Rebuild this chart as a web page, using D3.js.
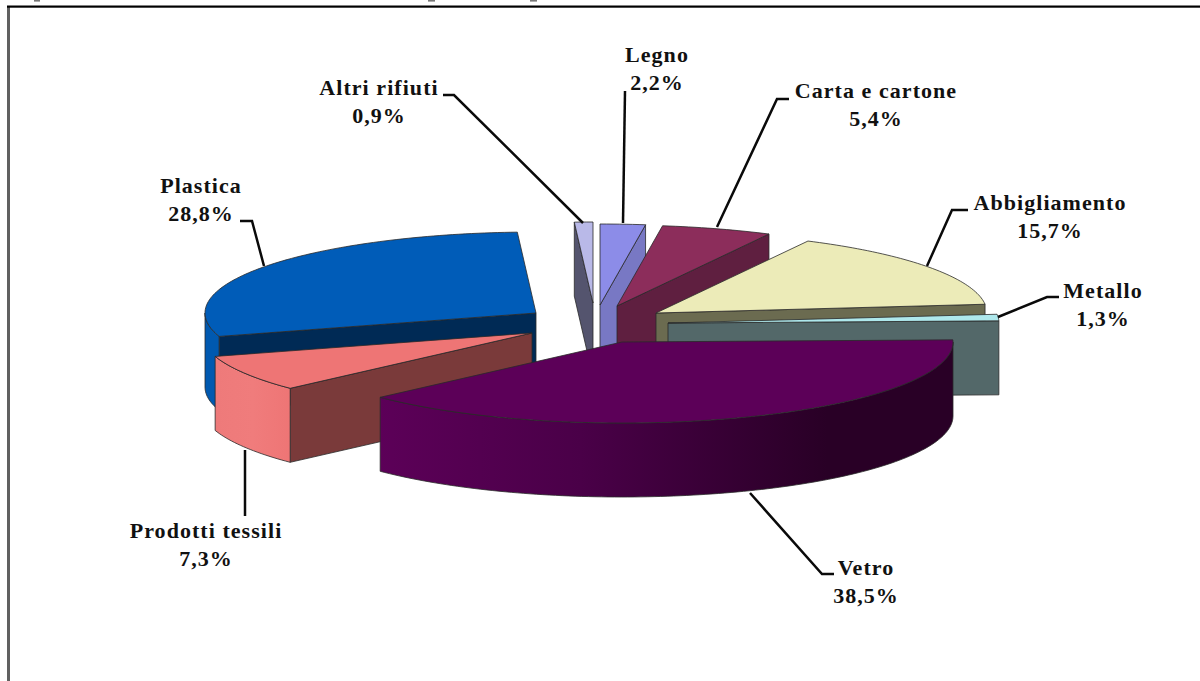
<!DOCTYPE html>
<html><head><meta charset="utf-8">
<script src="https://cdn.jsdelivr.net/npm/d3@7"></script>
<style>html,body{margin:0;padding:0;background:#fff;overflow:hidden}svg{display:block}
text{font-family:"Liberation Serif",serif;font-weight:bold;fill:#111;font-size:22px;text-anchor:middle;letter-spacing:1.05px}</style>
</head><body><svg id="c" width="1200" height="681"></svg>
<script>
// Data
const categories = ["Legno","Carta e cartone","Abbigliamento","Metallo","Vetro","Prodotti tessili","Plastica","Altri rifiuti"];
const shares = [2.2,5.4,15.7,1.3,38.5,7.3,28.8,0.9];
const shareLabels = ["2,2%","5,4%","15,7%","1,3%","38,5%","7,3%","28,8%","0,9%"];

// Styles (slice order)
const topColors  = ["#8c8ce8","#8c2d5b","#ecebb8","#aee8ec","#5c0058","#ee7575","#005cb8","#b9b9e8"];
const sideColors = ["#7878c4","#5f1f40","#6b6b50","#536869","#2a0027","#7a3a3a","#002a55","#54546e"];
const rimColors  = ["#7878c4","#5f1f40","#6b6b50","#536869","url(#gVetro)","url(#gTessili)","#0059b0","#54546e"];

// Layout (slice order)
const apexX = [600,617,656,668,622,532,536,593];
const apexY = [305,306,313,323,342,333,313,303];
const drawOrder = [0,7,1,6,2,3,5,4];
const labelX  = [657,876,1050,1103,866,206,201,379];
const labelY  = [62,98,210,298,575,538,193,95];
const leaders = [
  [[625,91],[623,223]],
  [[789,99],[777,99],[717,227]],
  [[968,210],[952,210],[927,266]],
  [[1059,297],[1047,297],[998,317]],
  [[750,493],[822,574],[834,574]],
  [[245,450],[245,516]],
  [[240,221],[252,221],[264,266]],
  [[443,95],[454,95],[583,223]]
];
const rx = 331, ry = 81, depth = 74, lineHeight = 27.5;

const svg = d3.select("#c");
const defs = svg.append("defs");
const grad = (id, stops) => {
  const g = defs.append("linearGradient").attr("id", id);
  stops.forEach(([o,c]) => g.append("stop").attr("offset", o).attr("stop-color", c));
};
grad("gVetro", [[0,"#5c0058"],[.35,"#4a0048"],[.78,"#290026"],[1,"#290026"]]);
grad("gTessili", [[0,"#ee7a7a"],[.5,"#f07c7c"],[1,"#ee7575"]]);

// Frame
svg.append("rect").attr("x",7).attr("y",6).attr("width",3).attr("height",675).attr("fill","#606060");
svg.append("rect").attr("x",7).attr("y",5.5).attr("width",1193).attr("height",2.2).attr("fill","#000");
[[34,6],[428,7],[530,7]].forEach(([x,w]) => svg.append("rect").attr("x",x).attr("y",0).attr("width",w).attr("height",1.6).attr("fill","#777"));

// Pie
const pie = d3.pie().value(d => d).sort(null).startAngle(0).endAngle(2*Math.PI);
const arcs = pie(shares);
const line = d3.line();
const rim = (i,a,dz=0) => [apexX[i] + rx*Math.sin(a), apexY[i] - ry*Math.cos(a) + dz];
const sweep = (i,a0,a1,dz=0) => {
  const n = Math.max(2, Math.ceil((a1-a0)/0.02));
  return d3.range(n+1).map(k => rim(i, a0 + (a1-a0)*k/n, dz));
};
const stroke = (sel) => sel.attr("stroke","#2a2a2a").attr("stroke-width",.8).attr("stroke-linejoin","round");
const poly = (pts, fill) => svg.append("path").attr("d", line(pts)+"Z").attr("fill",fill).call(stroke);

drawOrder.forEach(i => {
  const {startAngle:a0, endAngle:a1} = arcs[i];
  const P = [apexX[i], apexY[i]], Pd = [apexX[i], apexY[i]+depth];
  const PI = Math.PI;
  // radial side walls facing the viewer
  if (a1 < PI) poly([P, rim(i,a1), rim(i,a1,depth), Pd], sideColors[i]);
  if (a0 > PI) poly([P, rim(i,a0), rim(i,a0,depth), Pd], sideColors[i]);
  // outer curved wall
  const s = Math.max(a0, PI/2), e = Math.min(a1, 3*PI/2);
  if (e > s) poly([...sweep(i,s,e), ...sweep(i,s,e,depth).reverse()], rimColors[i]);
  // top face
  poly([P, ...sweep(i,a0,a1)], topColors[i]);
});

// Leaders
leaders.forEach(pts => svg.append("path").attr("d", line(pts)).attr("fill","none").attr("stroke","#0a0a0a").attr("stroke-width",2.5));

// Labels
categories.forEach((c,i) => {
  svg.append("text").attr("x",labelX[i]).attr("y",labelY[i]).text(c);
  svg.append("text").attr("x",labelX[i]).attr("y",labelY[i]+lineHeight).text(shareLabels[i]);
});
</script></body></html>
